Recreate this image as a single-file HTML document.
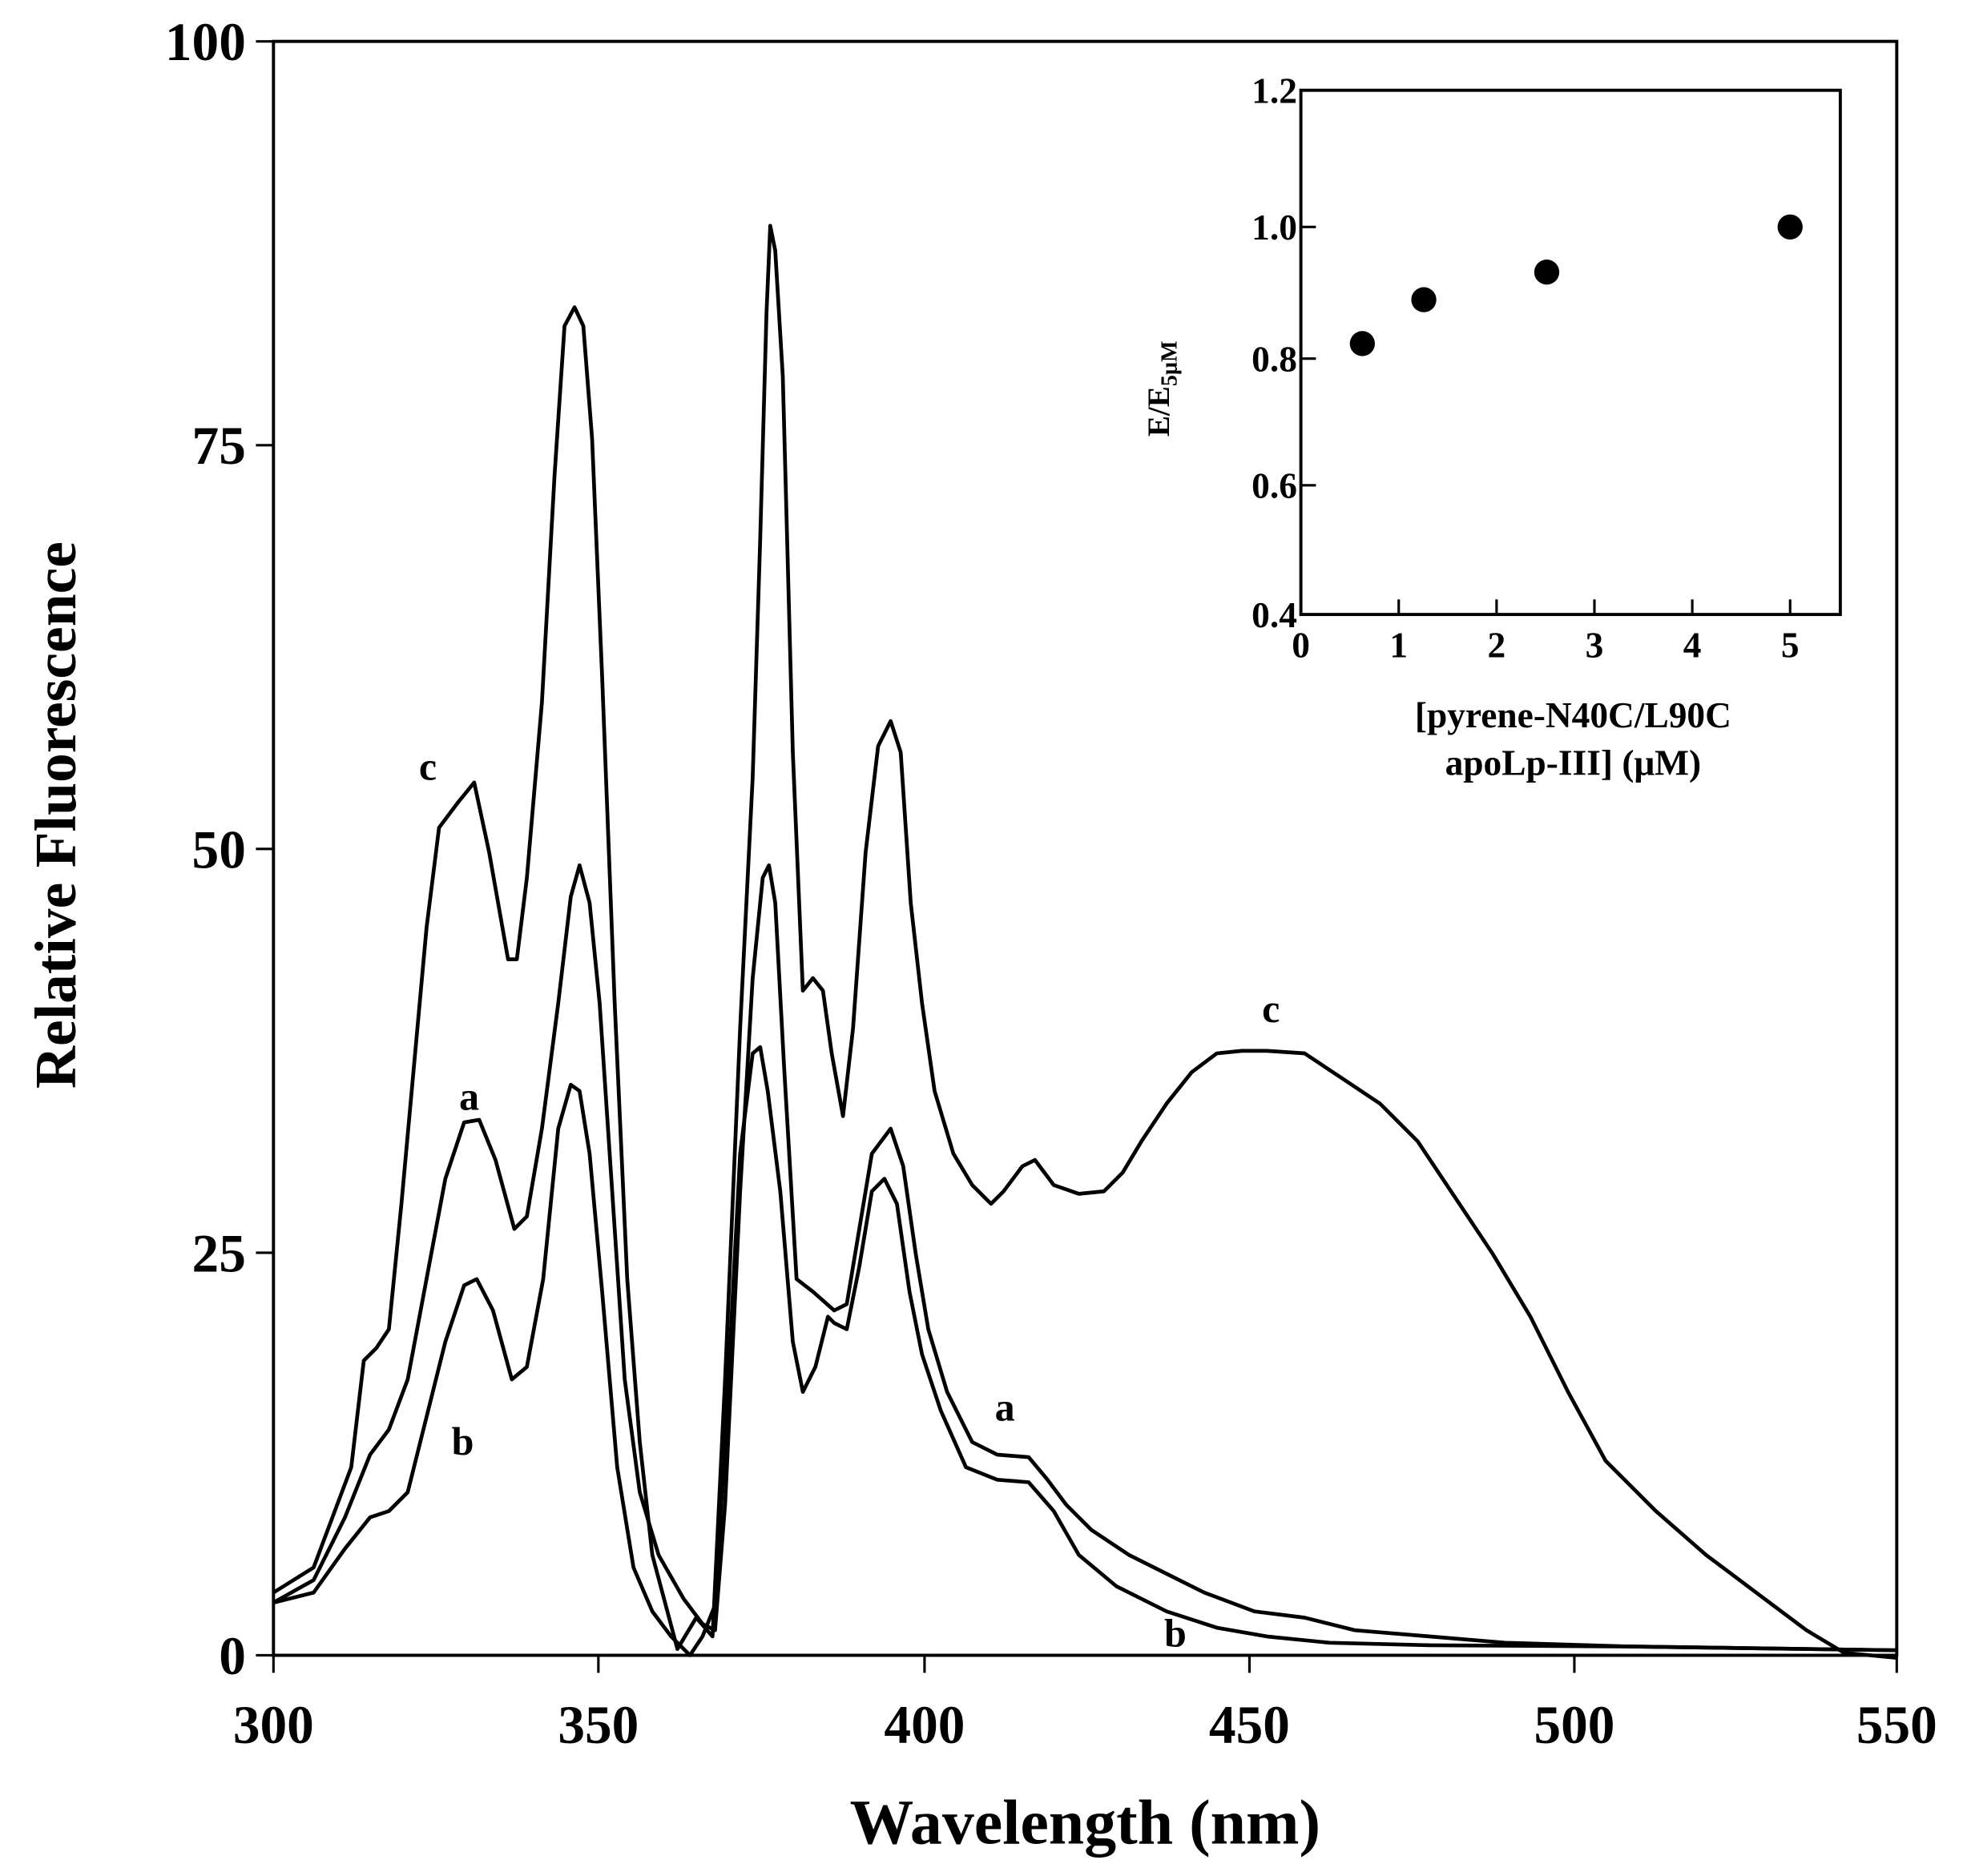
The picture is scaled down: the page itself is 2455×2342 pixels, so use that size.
<!DOCTYPE html>
<html><head><meta charset="utf-8"><style>
html,body{margin:0;padding:0;background:#fff}
svg{display:block}
text{font-family:"Liberation Serif",serif;font-weight:bold;fill:#000}
</style></head><body>
<svg width="2455" height="2342" viewBox="0 0 1568 1496" preserveAspectRatio="none" xmlns="http://www.w3.org/2000/svg">
<rect x="0" y="0" width="1568" height="1496" fill="#fff"/>
<rect x="218" y="33" width="1294" height="1287" fill="none" stroke="#000" stroke-width="2.5"/>
<g stroke="#000" stroke-width="2">
<line x1="218" y1="1320" x2="218" y2="1334"/><line x1="477" y1="1320" x2="477" y2="1334"/>
<line x1="737" y1="1320" x2="737" y2="1334"/><line x1="996" y1="1320" x2="996" y2="1334"/>
<line x1="1255" y1="1320" x2="1255" y2="1334"/><line x1="1512" y1="1320" x2="1512" y2="1334"/>
<line x1="204" y1="33" x2="218" y2="33"/><line x1="204" y1="355" x2="218" y2="355"/>
<line x1="204" y1="677" x2="218" y2="677"/><line x1="204" y1="999" x2="218" y2="999"/>
<line x1="204" y1="1320" x2="218" y2="1320"/>
</g>
<g font-size="43" text-anchor="end">
<text x="196" y="48">100</text><text x="196" y="370">75</text>
<text x="196" y="692">50</text><text x="196" y="1014">25</text><text x="196" y="1335">0</text>
</g>
<g font-size="43" text-anchor="middle">
<text x="218" y="1390">300</text><text x="477" y="1390">350</text><text x="737" y="1390">400</text>
<text x="996" y="1390">450</text><text x="1255" y="1390">500</text><text x="1512" y="1390">550</text>
</g>
<text x="865" y="1470" font-size="51" text-anchor="middle">Wavelength (nm)</text>
<text transform="translate(60,650) rotate(-90)" font-size="47" text-anchor="middle">Relative Fluorescence</text>
<g fill="none" stroke="#000" stroke-width="3" stroke-linejoin="round">
<polyline points="218,1270 250,1250 280,1170 290,1085 300,1075 310,1060 320,960 330,850 340,740 350,660 365,640 378,624 390,680 405,765 412,765 420,700 432,560 442,380 450,260 458,245 465,260 472,350 480,540 490,800 500,1020 510,1150 520,1240 540,1315 555,1290 568,1305 578,1100 590,820 600,620 606,430 611,250 614,180 618,200 624,300 632,600 640,790 648,780 656,790 663,840 672,890 680,820 690,680 700,595 710,575 718,600 726,720 735,800 745,870 760,920 775,945 790,960 800,950 815,930 825,925 840,945 860,952 880,950 895,935 910,910 930,880 950,855 970,840 990,838 1010,838 1040,840 1070,860 1100,880 1130,910 1160,955 1190,1000 1220,1050 1250,1110 1280,1165 1320,1205 1360,1240 1400,1270 1440,1300 1470,1318 1512,1322"/>
<polyline points="218,1278 250,1260 275,1210 295,1160 310,1140 325,1100 340,1020 355,940 370,895 382,893 395,925 410,980 420,970 432,900 445,800 455,715 462,690 470,720 478,800 488,950 498,1100 510,1190 525,1240 545,1275 560,1295 570,1300 578,1200 590,950 600,780 608,700 613,690 618,720 625,850 635,1020 648,1030 665,1045 675,1040 685,980 695,920 710,900 720,930 730,1000 740,1060 755,1110 775,1150 795,1160 820,1162 835,1180 850,1200 870,1220 900,1240 930,1255 960,1270 1000,1285 1040,1290 1080,1300 1140,1305 1200,1310 1300,1313 1512,1316"/>
<polyline points="218,1278 250,1270 275,1235 295,1210 310,1205 325,1190 340,1130 355,1070 370,1025 380,1020 393,1045 408,1100 420,1090 433,1020 445,900 455,865 462,870 470,920 480,1030 492,1170 505,1250 520,1285 535,1305 550,1320 560,1305 570,1280 578,1150 590,920 600,840 606,835 612,870 622,950 632,1070 640,1110 650,1090 660,1050 665,1055 675,1060 685,1010 695,950 705,940 715,960 725,1030 735,1080 750,1125 770,1170 795,1180 820,1182 840,1205 860,1240 890,1265 930,1285 970,1298 1010,1305 1060,1310 1140,1312 1300,1313 1512,1316"/>
</g>
<g font-size="32">
<text x="334" y="622">c</text><text x="366" y="885">a</text><text x="360" y="1160">b</text>
<text x="1006" y="815">c</text><text x="793" y="1133">a</text><text x="928" y="1313">b</text>
</g>
<rect x="1037" y="72" width="430" height="418" fill="none" stroke="#000" stroke-width="2.5"/>
<g stroke="#000" stroke-width="2">
<line x1="1037" y1="181" x2="1049" y2="181"/><line x1="1037" y1="286" x2="1049" y2="286"/>
<line x1="1037" y1="387" x2="1049" y2="387"/>
<line x1="1115" y1="490" x2="1115" y2="478"/><line x1="1193" y1="490" x2="1193" y2="478"/>
<line x1="1271" y1="490" x2="1271" y2="478"/><line x1="1349" y1="490" x2="1349" y2="478"/>
<line x1="1427" y1="490" x2="1427" y2="478"/>
</g>
<g font-size="29" text-anchor="end">
<text x="1034" y="82">1.2</text><text x="1034" y="191">1.0</text><text x="1034" y="296">0.8</text>
<text x="1034" y="397">0.6</text><text x="1034" y="500">0.4</text>
</g>
<g font-size="29" text-anchor="middle">
<text x="1037" y="524">0</text><text x="1115" y="524">1</text><text x="1193" y="524">2</text>
<text x="1271" y="524">3</text><text x="1349" y="524">4</text><text x="1427" y="524">5</text>
</g>
<g font-size="29" text-anchor="middle">
<text x="1254" y="580">[pyrene-N40C/L90C</text>
<text x="1254" y="618">apoLp-III] (μM)</text>
</g>
<text transform="translate(932,310) rotate(-90)" font-size="25" text-anchor="middle">E/E<tspan font-size="18" dy="6">5μM</tspan></text>
<g fill="#000">
<circle cx="1086" cy="274" r="10"/><circle cx="1135" cy="239" r="10"/>
<circle cx="1233" cy="217" r="10"/><circle cx="1427" cy="181" r="10"/>
</g>
</svg>
</body></html>
